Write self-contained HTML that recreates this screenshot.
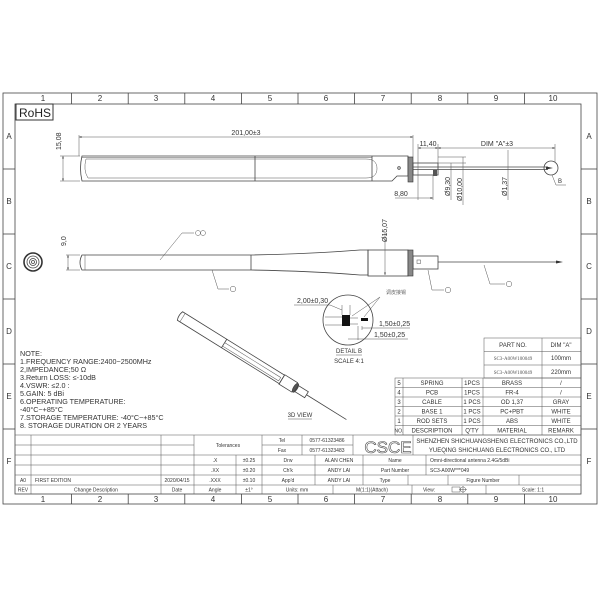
<!DOCTYPE html>
<html><head><meta charset="utf-8"><style>
html,body{margin:0;padding:0;background:#fff;}
svg{display:block;}
text{font-family:"Liberation Sans","Noto Sans CJK SC",sans-serif;fill:#333;}
.s{font-family:"Liberation Serif","Noto Serif CJK SC",serif;fill:#555;font-size:5px;}
.l{stroke:#444;stroke-width:0.8;fill:none;}
.t{stroke:#555;stroke-width:0.5;fill:none;}
</style></head><body>
<svg width="600" height="600" viewBox="0 0 600 600" xmlns="http://www.w3.org/2000/svg">
<defs>
<marker id="a" viewBox="0 0 6 6" refX="6" refY="3" markerWidth="5" markerHeight="5" orient="auto-start-reverse"><path d="M0,1 L6,3 L0,5Z" fill="#333"/></marker>
</defs>
<!-- frame -->
<rect x="3" y="93" width="594" height="411" class="l"/>
<rect x="15" y="104" width="566" height="390" class="l"/>
<g class="l">
<line x1="71.6" y1="93" x2="71.6" y2="104"/><line x1="128.2" y1="93" x2="128.2" y2="104"/><line x1="184.8" y1="93" x2="184.8" y2="104"/><line x1="241.4" y1="93" x2="241.4" y2="104"/><line x1="298" y1="93" x2="298" y2="104"/><line x1="354.6" y1="93" x2="354.6" y2="104"/><line x1="411.2" y1="93" x2="411.2" y2="104"/><line x1="467.8" y1="93" x2="467.8" y2="104"/><line x1="524.4" y1="93" x2="524.4" y2="104"/>
<line x1="71.6" y1="494" x2="71.6" y2="504"/><line x1="128.2" y1="494" x2="128.2" y2="504"/><line x1="184.8" y1="494" x2="184.8" y2="504"/><line x1="241.4" y1="494" x2="241.4" y2="504"/><line x1="298" y1="494" x2="298" y2="504"/><line x1="354.6" y1="494" x2="354.6" y2="504"/><line x1="411.2" y1="494" x2="411.2" y2="504"/><line x1="467.8" y1="494" x2="467.8" y2="504"/><line x1="524.4" y1="494" x2="524.4" y2="504"/>
<line x1="3" y1="169" x2="15" y2="169"/><line x1="3" y1="234" x2="15" y2="234"/><line x1="3" y1="299" x2="15" y2="299"/><line x1="3" y1="364" x2="15" y2="364"/><line x1="3" y1="429" x2="15" y2="429"/>
<line x1="581" y1="169" x2="597" y2="169"/><line x1="581" y1="234" x2="597" y2="234"/><line x1="581" y1="299" x2="597" y2="299"/><line x1="581" y1="364" x2="597" y2="364"/><line x1="581" y1="429" x2="597" y2="429"/>
</g>
<g class="s" style="font-size:8px" text-anchor="middle">
<text x="43" y="101">1</text><text x="100" y="101">2</text><text x="156" y="101">3</text><text x="213" y="101">4</text><text x="270" y="101">5</text><text x="326" y="101">6</text><text x="383" y="101">7</text><text x="440" y="101">8</text><text x="496" y="101">9</text><text x="553" y="101">10</text>
<text x="43" y="502">1</text><text x="100" y="502">2</text><text x="156" y="502">3</text><text x="213" y="502">4</text><text x="270" y="502">5</text><text x="326" y="502">6</text><text x="383" y="502">7</text><text x="440" y="502">8</text><text x="496" y="502">9</text><text x="553" y="502">10</text>
<text x="9" y="139">A</text><text x="9" y="204">B</text><text x="9" y="269">C</text><text x="9" y="334">D</text><text x="9" y="399">E</text><text x="9" y="464">F</text>
<text x="589" y="139">A</text><text x="589" y="204">B</text><text x="589" y="269">C</text><text x="589" y="334">D</text><text x="589" y="399">E</text><text x="589" y="464">F</text>
</g>
<!-- RoHS -->
<rect x="16" y="104" width="37" height="16" fill="#fff" stroke="#333" stroke-width="1"/>
<text x="19" y="117" style="font-size:12px;fill:#222">RoHS</text>

<!-- TOP VIEW -->
<g class="l">
<path d="M82,156 H408 V176 H397 L392,181 H82 Q79,168 82,156Z"/>
<line x1="82" y1="157.5" x2="372" y2="157.5" class="t"/>
<path d="M86,159 H366 Q377,159 377,168.5 Q377,178 366,178 H88 Q83,170 86,159Z" class="t"/>
<line x1="255" y1="156" x2="255" y2="181"/>
<line x1="372" y1="156" x2="372" y2="181"/>
</g>
<circle cx="399" cy="168" r="1.3" class="l"/>
<rect x="408" y="157" width="5" height="25" fill="#888" stroke="#333" stroke-width="0.6"/>
<rect x="413" y="163" width="25" height="12" class="l"/>
<rect x="433" y="170" width="4" height="6" fill="#555"/>
<line x1="413" y1="167" x2="548" y2="167" class="l"/><line x1="413" y1="169.5" x2="548" y2="169.5" class="l"/>
<circle cx="551" cy="168" r="7" class="l"/>
<path d="M546,166.5 L553,168 L546,169.5Z" fill="#333"/>
<polyline points="552,175 556,185 566,185" class="t"/>
<text x="558" y="183" style="font-size:6px">B</text>
<!-- top dims -->
<g class="t">
<line x1="79" y1="135" x2="79" y2="156"/><line x1="413" y1="135" x2="413" y2="157"/>
<line x1="79" y1="137" x2="413" y2="137" marker-start="url(#a)" marker-end="url(#a)"/>
<line x1="60" y1="156" x2="80" y2="156"/><line x1="60" y1="181" x2="80" y2="181"/>
<line x1="63" y1="156" x2="63" y2="181" marker-start="url(#a)" marker-end="url(#a)"/>
<line x1="418" y1="144" x2="418" y2="200"/><line x1="438" y1="144" x2="438" y2="175"/><line x1="555" y1="144" x2="555" y2="162"/>
<line x1="418" y1="148" x2="438" y2="148" marker-start="url(#a)" marker-end="url(#a)"/>
<line x1="438" y1="148" x2="555" y2="148" marker-start="url(#a)" marker-end="url(#a)"/>
<line x1="438" y1="163" x2="466" y2="163"/><line x1="438" y1="157" x2="466" y2="157"/>
<line x1="451" y1="163" x2="451" y2="200"/><line x1="463" y1="157" x2="463" y2="205"/>
<line x1="508" y1="150" x2="508" y2="200"/>
<line x1="395" y1="198" x2="433" y2="198" marker-end="url(#a)"/><line x1="433" y1="175" x2="433" y2="200"/>
</g>
<text x="246" y="135" text-anchor="middle" style="font-size:7px">201,00±3</text>
<text transform="translate(61,150) rotate(-90)" style="font-size:7px">15,08</text>
<text x="428" y="146" text-anchor="middle" style="font-size:7px">11,40</text>
<text x="497" y="146" text-anchor="middle" style="font-size:7px">DIM "A"±3</text>
<text x="401" y="196" text-anchor="middle" style="font-size:7px">8,80</text>
<text transform="translate(450,196) rotate(-90)" style="font-size:7px">Ø9,30</text>
<text transform="translate(462,201) rotate(-90)" style="font-size:7px">Ø10,00</text>
<text transform="translate(507,196) rotate(-90)" style="font-size:7px">Ø1,37</text>

<!-- SIDE VIEW -->
<circle cx="33" cy="262" r="9" fill="none" stroke="#333" stroke-width="1.6"/>
<circle cx="33" cy="262" r="6" class="l"/><circle cx="33" cy="262" r="3.5" class="l"/><circle cx="33" cy="262" r="1.5" class="l"/>
<g class="l">
<path d="M82,255 H251 Q310,254 360,250 H368 V275 H360 Q310,271 251,270 H82 Q78,262.5 82,255Z"/>
<line x1="85" y1="255" x2="85" y2="270" class="t"/>
<line x1="251" y1="255" x2="251" y2="270"/>
<rect x="368" y="250" width="40" height="26"/>
<rect x="413" y="256" width="25" height="13"/>
<rect x="417" y="260" width="3.5" height="3.5" class="t"/>
</g>
<rect x="408" y="250" width="5" height="26" fill="#888" stroke="#333" stroke-width="0.6"/>
<line x1="438" y1="262" x2="558" y2="262" class="l"/>
<path d="M556,260.5 L563,262 L556,263.5Z" fill="#333"/>
<g class="t">
<line x1="66" y1="255" x2="80" y2="255"/><line x1="66" y1="270" x2="80" y2="270"/>
<line x1="68" y1="255" x2="68" y2="270" marker-start="url(#a)" marker-end="url(#a)"/>
<line x1="385" y1="232" x2="385" y2="275" marker-end="url(#a)"/>
<polyline points="160,260 182,233 194,233"/>
<polyline points="212,270 218,289 229,289"/>
<polyline points="428,270 432,290 444,290"/>
<polyline points="484,265 490,284 505,284"/>
</g>
<circle cx="198" cy="233" r="2.5" class="t"/><circle cx="203" cy="233" r="2.5" class="t"/>
<circle cx="233" cy="289" r="2.8" class="t"/><circle cx="448" cy="290" r="2.8" class="t"/><circle cx="509" cy="284" r="2.8" class="t"/>
<text transform="translate(66,246) rotate(-90)" style="font-size:7px">9,0</text>
<text transform="translate(387,242) rotate(-90)" style="font-size:7px">Ø15,07</text>

<!-- DETAIL B -->
<circle cx="348" cy="320" r="25" class="l"/>
<g class="t">
<line x1="325" y1="317" x2="345" y2="317"/><line x1="325" y1="325" x2="345" y2="325"/>
<line x1="350" y1="318" x2="358" y2="318"/><line x1="350" y1="324" x2="358" y2="324"/>
<polyline points="294,305 330,305 342,310"/>
<line x1="342" y1="305" x2="342" y2="315"/><line x1="350" y1="305" x2="350" y2="315"/>
<line x1="380" y1="297" x2="352" y2="316"/><line x1="380" y1="297" x2="364" y2="317"/>
<line x1="358" y1="326" x2="358" y2="340"/><line x1="362" y1="326" x2="362" y2="330"/>
<line x1="362" y1="328" x2="410" y2="328"/><line x1="348" y1="339" x2="408" y2="339"/>
</g>
<rect x="342" y="315" width="8" height="11" fill="#111"/>
<rect x="361" y="318" width="7" height="3" fill="#111"/>
<text x="297" y="303" style="font-size:7px">2,00±0,30</text>
<text x="386" y="294" style="font-size:5px;fill:#666">调皮接锡</text>
<text x="379" y="326" style="font-size:7px">1,50±0,25</text>
<text x="374" y="337" style="font-size:7px">1,50±0,25</text>
<text x="349" y="353" text-anchor="middle" style="font-size:6px">DETAIL B</text>
<line x1="336" y1="355" x2="362" y2="355" class="t"/>
<text x="349" y="363" text-anchor="middle" style="font-size:6px">SCALE 4:1</text>

<!-- 3D VIEW -->
<g transform="translate(180,316) rotate(31.9)" class="l">
<path d="M0,-5 H120 V5 H0 Q-2,0 0,-5Z"/>
<line x1="3" y1="-5" x2="3" y2="5" class="t"/>
<line x1="52" y1="-5" x2="52" y2="5"/>
<rect x="52" y="-1" width="66" height="4" class="t"/>
<rect x="120" y="-5.5" width="15" height="11"/>
<ellipse cx="136" cy="0" rx="2" ry="5" fill="#555"/>
<rect x="137" y="-3.5" width="12" height="7"/>
<line x1="149" y1="0" x2="196" y2="0"/>
</g>
<text x="300" y="417" text-anchor="middle" style="font-size:6px">3D VIEW</text>
<line x1="288" y1="419" x2="312" y2="419" class="t"/>

<!-- NOTES -->
<g style="font-size:7.2px">
<text x="20" y="356">NOTE:</text>
<text x="20" y="364">1.FREQUENCY RANGE:2400~2500MHz</text>
<text x="20" y="372">2,IMPEDANCE;50 Ω</text>
<text x="20" y="380">3.Return LOSS: ≤-10dB</text>
<text x="20" y="388">4.VSWR: ≤2.0 :</text>
<text x="20" y="396">5.GAIN: 5 dBi</text>
<text x="20" y="404">6.OPERATING TEMPERATURE:</text>
<text x="20" y="412">-40°C~+85°C</text>
<text x="20" y="420">7.STORAGE TEMPERATURE: -40°C~+85°C</text>
<text x="20" y="428">8. STORAGE DURATION OR 2 YEARS</text>
</g>

<!-- PART NO box -->
<g class="t">
<rect x="484" y="338" width="97" height="40"/>
<line x1="484" y1="351.5" x2="581" y2="351.5"/><line x1="484" y1="365" x2="581" y2="365"/>
<line x1="542" y1="338" x2="542" y2="378"/>
<rect x="395" y="378" width="186" height="57"/>
<line x1="395" y1="387.5" x2="581" y2="387.5"/><line x1="395" y1="397" x2="581" y2="397"/><line x1="395" y1="406.5" x2="581" y2="406.5"/><line x1="395" y1="416" x2="581" y2="416"/><line x1="395" y1="425.5" x2="581" y2="425.5"/>
<line x1="403" y1="378" x2="403" y2="435"/><line x1="462" y1="378" x2="462" y2="435"/><line x1="483" y1="378" x2="483" y2="435"/><line x1="542" y1="378" x2="542" y2="435"/>
</g>
<g style="font-size:6px" text-anchor="middle">
<text x="513" y="347">PART NO.</text><text x="561" y="347">DIM "A"</text>
<text x="513" y="360" class="s">SC3-A00W100049</text><text x="561" y="360">100mm</text>
<text x="513" y="374" class="s">SC3-A00W100049</text><text x="561" y="374">220mm</text>
<text x="399" y="385">5</text><text x="432" y="385">SPRING</text><text x="472" y="385">1PCS</text><text x="512" y="385">BRASS</text><text x="561" y="385">/</text>
<text x="399" y="394.5">4</text><text x="432" y="394.5">PCB</text><text x="472" y="394.5">1PCS</text><text x="512" y="394.5">FR-4</text><text x="561" y="394.5">/</text>
<text x="399" y="404">3</text><text x="432" y="404">CABLE</text><text x="472" y="404">1 PCS</text><text x="512" y="404">OD 1,37</text><text x="561" y="404">GRAY</text>
<text x="399" y="413.5">2</text><text x="432" y="413.5">BASE 1</text><text x="472" y="413.5">1 PCS</text><text x="512" y="413.5">PC+PBT</text><text x="561" y="413.5">WHITE</text>
<text x="399" y="423">1</text><text x="432" y="423">ROD SETS</text><text x="472" y="423">1 PCS</text><text x="512" y="423">ABS</text><text x="561" y="423">WHITE</text>
<text x="399" y="432.5" style="font-size:5px">NO.</text><text x="432" y="432.5">DESCRIPTION</text><text x="472" y="432.5">Q'TY</text><text x="512" y="432.5">MATERIAL</text><text x="561" y="432.5">REMARK</text>
</g>

<!-- TITLE BLOCK -->
<g class="t">
<line x1="15" y1="435" x2="581" y2="435"/>
<line x1="15" y1="445" x2="194" y2="445"/><line x1="262" y1="445" x2="353" y2="445"/>
<line x1="15" y1="455" x2="581" y2="455"/>
<line x1="15" y1="465" x2="581" y2="465"/>
<line x1="15" y1="475" x2="581" y2="475"/>
<line x1="15" y1="485" x2="581" y2="485"/>
<line x1="31" y1="435" x2="31" y2="494"/><line x1="161" y1="435" x2="161" y2="494"/><line x1="194" y1="435" x2="194" y2="494"/>
<line x1="236" y1="455" x2="236" y2="494"/><line x1="262" y1="435" x2="262" y2="494"/>
<line x1="302" y1="435" x2="302" y2="455"/><line x1="353" y1="435" x2="353" y2="455"/>
<line x1="315" y1="455" x2="315" y2="485"/><line x1="363" y1="455" x2="363" y2="485"/>
<line x1="413" y1="435" x2="413" y2="455"/>
<line x1="426" y1="455" x2="426" y2="475"/>
<line x1="408" y1="475" x2="408" y2="485"/><line x1="448" y1="475" x2="448" y2="485"/><line x1="519" y1="475" x2="519" y2="485"/>
<line x1="333" y1="485" x2="333" y2="494"/><line x1="412" y1="485" x2="412" y2="494"/><line x1="486" y1="485" x2="486" y2="494"/>
</g>
<g class="s">
<text x="228" y="447" text-anchor="middle">Tolerances</text>
<text x="282" y="442" text-anchor="middle">Tel</text><text x="282" y="452" text-anchor="middle">Fax</text>
<text x="327" y="442" text-anchor="middle">0577-61323486</text><text x="327" y="452" text-anchor="middle">0577-61323483</text>
<text x="497" y="443" text-anchor="middle" style="font-size:6px">SHENZHEN SHICHUANGSHENG ELECTRONICS CO.,LTD</text>
<text x="497" y="452" text-anchor="middle" style="font-size:6px">YUEQING SHICHUANG ELECTRONICS CO., LTD</text>
<text x="215" y="462" text-anchor="middle">.X</text><text x="249" y="462" text-anchor="middle">±0.25</text>
<text x="215" y="472" text-anchor="middle">.XX</text><text x="249" y="472" text-anchor="middle">±0.20</text>
<text x="215" y="482" text-anchor="middle">.XXX</text><text x="249" y="482" text-anchor="middle">±0.10</text>
<text x="215" y="491.5" text-anchor="middle">Angle</text><text x="249" y="491.5" text-anchor="middle">±1°</text>
<text x="288" y="462" text-anchor="middle">Drw</text><text x="339" y="462" text-anchor="middle">ALAN CHEN</text>
<text x="288" y="472" text-anchor="middle">Ch'k</text><text x="339" y="472" text-anchor="middle">ANDY LAI</text>
<text x="288" y="482" text-anchor="middle">App'd</text><text x="339" y="482" text-anchor="middle">ANDY LAI</text>
<text x="395" y="462" text-anchor="middle">Name</text><text x="430" y="462">Omni-directional antenna 2.4G/5dBi</text>
<text x="395" y="472" text-anchor="middle">Part Number</text><text x="430" y="472">SC3-A00W***049</text>
<text x="385" y="482" text-anchor="middle">Type</text><text x="483" y="482" text-anchor="middle">Figure Number</text>
<text x="297" y="491.5" text-anchor="middle">Units: mm</text><text x="372" y="491.5" text-anchor="middle">M(1:1)(Attach)</text>
<text x="423" y="491.5">View:</text><text x="533" y="491.5" text-anchor="middle">Scale: 1:1</text>
<text x="23" y="482" text-anchor="middle">A0</text><text x="35" y="482">FIRST EDITION</text><text x="177" y="482" text-anchor="middle">2020/04/15</text>
<text x="23" y="491.5" text-anchor="middle">REV</text><text x="96" y="491.5" text-anchor="middle">Change Description</text><text x="177" y="491.5" text-anchor="middle">Date</text>
</g>
<rect x="452" y="487" width="8" height="5" class="t"/><circle cx="463" cy="489.5" r="2.6" class="t"/><line x1="459" y1="489.5" x2="467" y2="489.5" class="t"/><line x1="463" y1="486" x2="463" y2="493" class="t"/>
<text x="388" y="453" text-anchor="middle" style="font-size:17px;fill:#fff;stroke:#444;stroke-width:0.6;font-family:'Liberation Sans',sans-serif">CSCE</text>
</svg>
</body></html>
